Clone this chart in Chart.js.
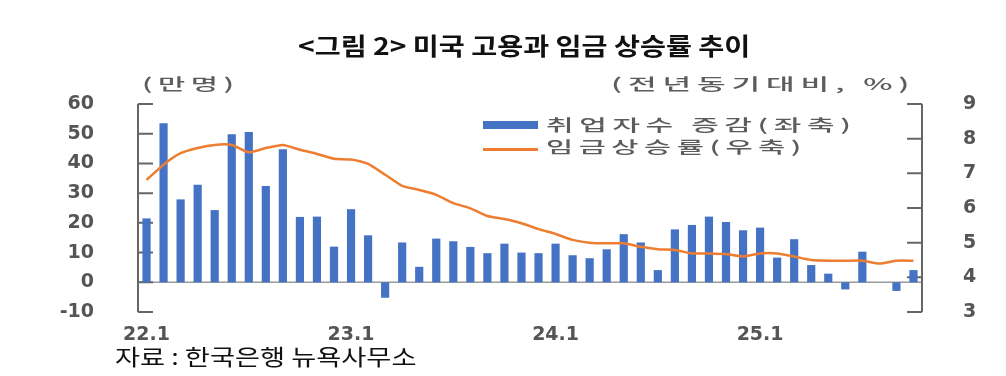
<!DOCTYPE html>
<html>
<head>
<meta charset="utf-8">
<script src="https://cdn.jsdelivr.net/npm/chart.js@4/dist/chart.umd.min.js"></script>
<style>
  body { margin: 0; background: #fff; }
  #wrap { position: relative; width: 1006px; height: 376px; overflow: hidden; }
  #chart { position: absolute; left: 0; top: 0; }
  .txt { position: absolute; left: 0; top: 0; white-space: nowrap; line-height: 1; font-family: "Noto Sans CJK KR", sans-serif; }
  #title { font-size: 24px; font-weight: bold; color: #111; }
  .unit { font-size: 16px; color: #5c5c5c; letter-spacing: 3px; font-weight: 500; }
  .lgtxt { font-size: 16px; color: #5c5c5c; letter-spacing: 3px; font-weight: 500; }
  .mark { position: absolute; left: 483px; width: 55px; }
  #source { font-size: 22px; color: #111; }
</style>
</head>
<body>
<div id="wrap">
  <canvas id="chart" width="1006" height="376"></canvas>
  <div class="txt" id="title">&lt;그림 2&gt; 미국 고용과 임금 상승률 추이</div>
  <div class="txt unit" id="unitL">(만명)</div>
  <div class="txt unit" id="unitR">(전년동기대비, %)</div>
  <div class="txt" id="source">자료 : 한국은행 뉴욕사무소</div>
</div>
<script>
// months, 22.1 ~ 25.10
const months = [
  '22.1','22.2','22.3','22.4','22.5','22.6','22.7','22.8','22.9','22.10','22.11','22.12',
  '23.1','23.2','23.3','23.4','23.5','23.6','23.7','23.8','23.9','23.10','23.11','23.12',
  '24.1','24.2','24.3','24.4','24.5','24.6','24.7','24.8','24.9','24.10','24.11','24.12',
  '25.1','25.2','25.3','25.4','25.5','25.6','25.7','25.8','25.9','25.10'
];

// 취업자수 증감 (만명, left axis)
const jobs = [
  21.5, 53.5, 27.9, 32.8, 24.3, 49.8, 50.6, 32.4, 44.8, 22.0, 22.1, 12.0,
  24.6, 15.8, -5.2, 13.4, 5.2, 14.7, 13.8, 11.9, 9.8, 13.0, 10.0, 9.8,
  13.0, 9.1, 8.1, 11.1, 16.2, 13.4, 4.1, 17.8, 19.3, 22.1, 20.3, 17.5,
  18.4, 8.3, 14.5, 5.8, 2.9, -2.4, 10.3, null, -2.9, 4.1
];

// 임금상승률 (%, right axis)
const wages = [
  6.81, 7.25, 7.58, 7.73, 7.82, 7.82, 7.61, 7.73, 7.82, 7.68, 7.56, 7.42,
  7.40, 7.27, 6.96, 6.64, 6.52, 6.38, 6.14, 5.99, 5.77, 5.68, 5.56, 5.39,
  5.25, 5.08, 5.00, 4.98, 4.98, 4.88, 4.81, 4.79, 4.69, 4.69, 4.67, 4.60,
  4.69, 4.69, 4.60, 4.50, 4.48, 4.48, 4.48, 4.40, 4.48, 4.48
];

const leftTicks = { min: -10, max: 60, step: 10 };
const rightTicks = { min: 3, max: 9, step: 1 };

const blue = '#4472C4';
const orange = '#ED7D31';
const tickFont = { family: 'DejaVu Sans', size: 19, weight: 'bold' };

// axis lines with inward ticks + zero line
const axisLines = {
  id: 'axisLines',
  beforeDatasetsDraw(chart) {
    const { ctx, chartArea: a, scales } = chart;
    const y = scales.y, y1 = scales.y1;
    ctx.save();
    ctx.strokeStyle = '#9a9a9a';
    ctx.lineWidth = 1.5;
    const z = y.getPixelForValue(0);
    ctx.beginPath();
    ctx.moveTo(a.left, z);
    ctx.lineTo(a.right, z);
    ctx.stroke();

    ctx.strokeStyle = '#666';
    ctx.lineWidth = 2;
    ctx.beginPath();
    ctx.moveTo(a.left, y.getPixelForValue(leftTicks.max));
    ctx.lineTo(a.left, y.getPixelForValue(leftTicks.min));
    y.ticks.forEach(t => {
      const p = y.getPixelForValue(t.value);
      ctx.moveTo(a.left, p);
      ctx.lineTo(a.left + 15, p);
    });
    ctx.moveTo(a.right, y1.getPixelForValue(rightTicks.max));
    ctx.lineTo(a.right, y1.getPixelForValue(rightTicks.min));
    y1.ticks.forEach(t => {
      const p = y1.getPixelForValue(t.value);
      ctx.moveTo(a.right, p);
      ctx.lineTo(a.right - 15, p);
    });
    ctx.stroke();
    ctx.restore();
  }
};

const ctx = document.getElementById('chart').getContext('2d');
const chart = new Chart(ctx, {
  type: 'bar',
  data: {
    labels: months,
    datasets: [
      {
        type: 'line',
        label: '임금상승률(우축)',
        data: wages,
        yAxisID: 'y1',
        borderColor: orange,
        borderWidth: 2.5,
        pointRadius: 0,
        tension: 0.2,
        order: 0
      },
      {
        type: 'bar',
        label: '취업자수 증감(좌축)',
        data: jobs,
        yAxisID: 'y',
        backgroundColor: blue,
        categoryPercentage: 1,
        barPercentage: 0.48,
        order: 1
      }
    ]
  },
  options: {
    responsive: false,
    animation: false,
    layout: { padding: { top: 104, bottom: 0, left: 0, right: 0 } },
    plugins: { legend: { display: false }, tooltip: { enabled: false } },
    scales: {
      x: {
        offset: true,
        grid: { display: false },
        border: { display: false },
        afterFit: s => { s.height = 64; },
        ticks: {
          autoSkip: false,
          maxRotation: 0,
          padding: 4,
          color: '#555',
          font: tickFont,
          callback: function (v) {
            const lab = this.getLabelForValue(v);
            return lab.endsWith('.1') ? lab : '';
          }
        }
      },
      y: {
        position: 'left',
        min: leftTicks.min,
        max: leftTicks.max,
        grid: { display: false },
        border: { display: false },
        afterFit: s => { s.width = 138; },
        ticks: { stepSize: leftTicks.step, padding: 36, color: '#555', font: tickFont }
      },
      y1: {
        position: 'right',
        min: rightTicks.min,
        max: rightTicks.max,
        grid: { display: false },
        border: { display: false },
        afterFit: s => { s.width = 84; },
        ticks: { stepSize: rightTicks.step, padding: 33, color: '#555', font: tickFont }
      }
    }
  },
  plugins: [axisLines]
});

// stretch a text box to the width it has in the picture
function place(el, left, width, cy) {
  const w = el.offsetWidth, h = el.offsetHeight;
  el.style.left = left + 'px';
  el.style.top = (cy - h / 2 - 1) + 'px';
  el.style.transformOrigin = '0 50%';
  el.style.transform = 'scaleX(' + (width / w) + ')';
}

const wrap = document.getElementById('wrap');

// legend: bar first, then line
const legendRows = [
  { ds: chart.data.datasets[1], cy: 125, width: 311 },
  { ds: chart.data.datasets[0], cy: 147, width: 260 }
];
legendRows.forEach(r => {
  const mark = document.createElement('div');
  mark.className = 'mark';
  if (r.ds.type === 'bar') {
    mark.style.top = (r.cy - 4) + 'px';
    mark.style.height = '8px';
    mark.style.background = r.ds.backgroundColor;
  } else {
    mark.style.top = (r.cy + 1) + 'px';
    mark.style.height = '2.5px';
    mark.style.background = r.ds.borderColor;
  }
  wrap.appendChild(mark);
  const t = document.createElement('div');
  t.className = 'txt lgtxt';
  t.textContent = r.ds.label;
  wrap.appendChild(t);
  place(t, 546, r.width, r.cy);
});

place(document.getElementById('title'), 298, 452, 46);
place(document.getElementById('unitL'), 142, 98, 84);
place(document.getElementById('unitR'), 611, 304, 84);
place(document.getElementById('source'), 115, 302, 356);
</script>
</body>
</html>
